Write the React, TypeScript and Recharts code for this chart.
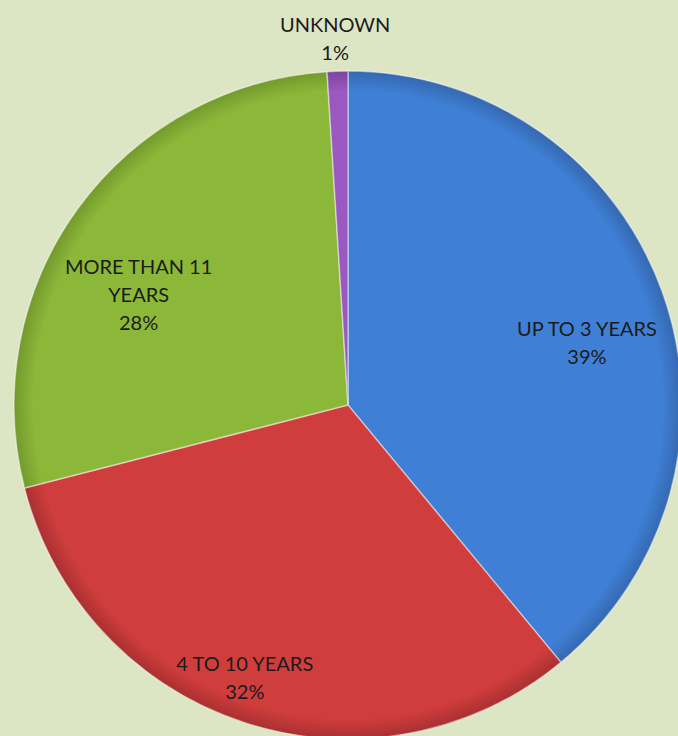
import { PieChart, Pie, Cell } from "recharts"

const categories = ["UP TO 3 YEARS", "4 TO 10 YEARS", "MORE THAN 11 YEARS", "UNKNOWN"]
const shares = [39, 32, 28, 1]
// label text broken into lines the way the original shows them
const labelLines = [["UP TO 3 YEARS"], ["4 TO 10 YEARS"], ["MORE THAN 11", "YEARS"], ["UNKNOWN"]]

const colors = ["#3f80d6", "#d03d3d", "#8cb83a", "#9a58c0"]
const rimColors = ["#3568b0", "#a93030", "#739a2c", "#7d449e"]
// radius factor and angle nudge for each label block (best-fit placement)
const labelRadius = [0.74, 0.87, 0.71, 1.1]
const labelNudge = [-5, -2.8, 8, 0.2]

const data = categories.map((name, i) => ({ name, value: shares[i] }))

const RAD = Math.PI / 180
const LINE = 28
const CX = 348
const CY = 405
const R = 334

function SliceLabel(props: any) {
  const { cx, cy, midAngle, outerRadius, index } = props
  const r = outerRadius * labelRadius[index]
  const a = (midAngle + labelNudge[index]) * RAD
  const x = cx + r * Math.cos(a)
  const y = cy - r * Math.sin(a)
  const lines = [...labelLines[index], `${shares[index]}%`]
  const top = y - ((lines.length - 1) * LINE) / 2
  return (
    <text
      x={x}
      y={top}
      textAnchor="middle"
      dominantBaseline="central"
      fill="#1b1b1b"
      style={{ fontFamily: "Lato, 'Open Sans', sans-serif", fontSize: 20 }}
    >
      {lines.map((l, i) => (
        <tspan key={i} x={x} y={top + i * LINE}>
          {l}
        </tspan>
      ))}
    </text>
  )
}

export default function App() {
  return (
    <div
      style={{
        position: "absolute",
        left: 0,
        top: 0,
        width: 678,
        height: 736,
        overflow: "hidden",
        background: "#dce6c4",
      }}
    >
      <PieChart width={678} height={736} margin={{ top: 0, right: 0, bottom: 0, left: 0 }}>
        <defs>
          {colors.map((c, i) => (
            <radialGradient key={i} id={`slice-${i}`} gradientUnits="userSpaceOnUse" cx={CX} cy={CY} r={R}>
              <stop offset="0%" stopColor={c} />
              <stop offset="94%" stopColor={c} />
              <stop offset="100%" stopColor={rimColors[i]} />
            </radialGradient>
          ))}
        </defs>
        <Pie
          data={data}
          dataKey="value"
          nameKey="name"
          cx={CX}
          cy={CY}
          outerRadius={R}
          startAngle={90}
          endAngle={-270}
          stroke="rgba(255,255,255,0.45)"
          strokeWidth={1.5}
          label={SliceLabel}
          labelLine={false}
          isAnimationActive={false}
        >
          {data.map((entry, i) => (
            <Cell key={entry.name} fill={`url(#slice-${i})`} />
          ))}
        </Pie>
      </PieChart>
    </div>
  )
}
